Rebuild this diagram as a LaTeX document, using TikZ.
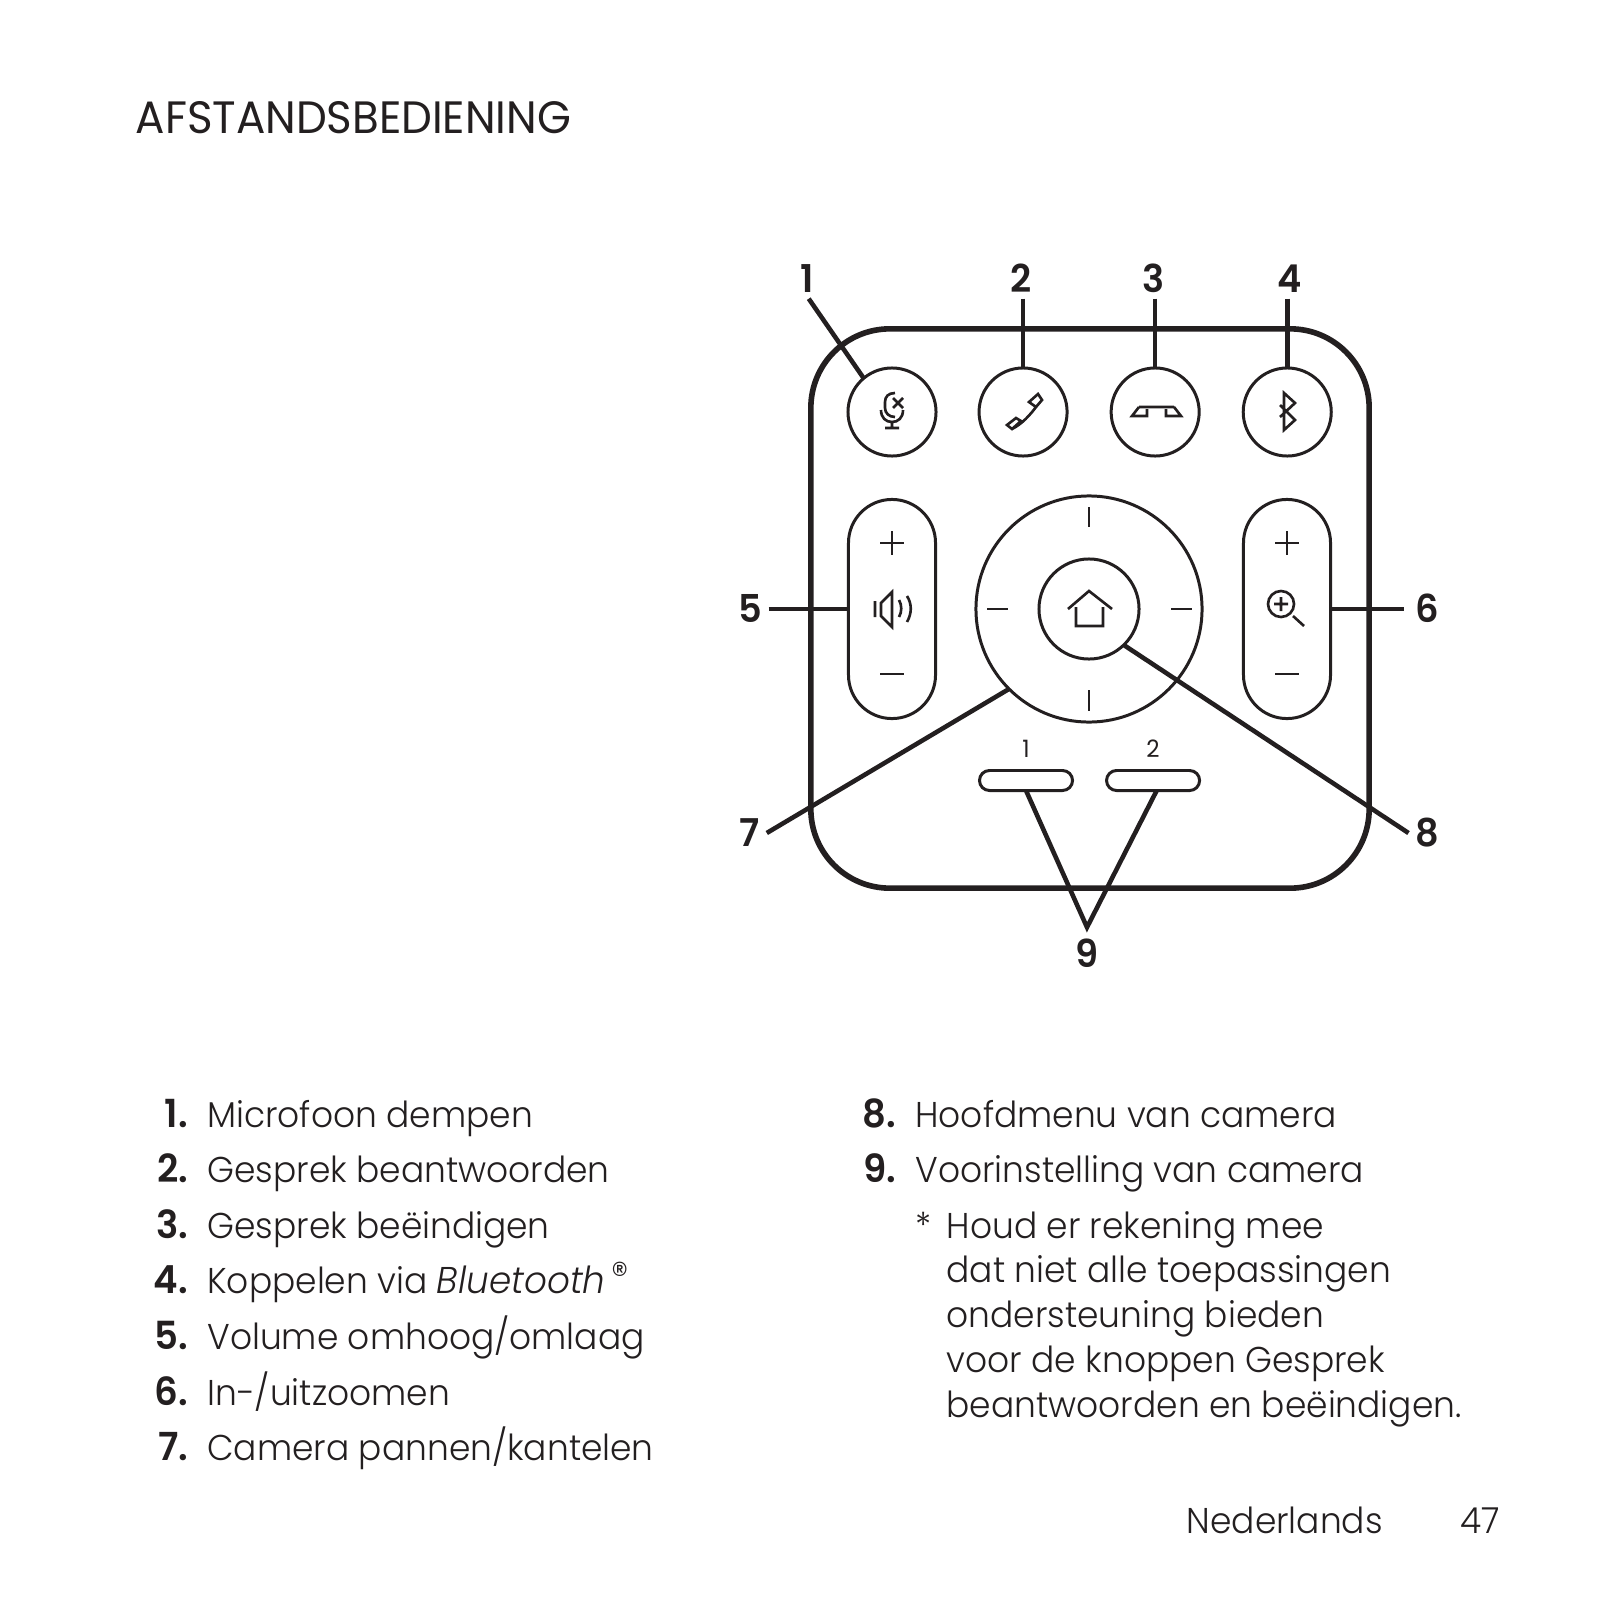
\documentclass[tikz,border=0pt]{standalone}
\usepackage{fontspec}
\setmainfont{Poppins}[UprightFont=* Light,BoldFont=* SemiBold,ItalicFont=* Light Italic,FakeStretch=.96]
\newfontfamily\headfont{Poppins}[FakeStretch=.96]
\usetikzlibrary{positioning}
\definecolor{ink}{HTML}{231F20}

\begin{document}
\begin{tikzpicture}[
  x=0.01cm, y=-0.01cm,
  color=ink, text=ink,
  body/.style={draw, rounded corners=.79cm, line width=1.6pt, minimum width=5.58cm,
               minimum height=5.59cm, outer sep=0pt, inner sep=0pt},
  round/.style={circle, draw, line width=.85pt, minimum size=.88cm, outer sep=0pt, inner sep=0pt},
  pill/.style={rectangle, draw, rounded corners=.435cm, line width=.85pt, minimum width=.87cm,
               minimum height=2.19cm, outer sep=0pt, inner sep=0pt},
  preset/.style={rectangle, draw, rounded corners=.1cm, line width=.85pt, minimum width=.93cm,
                 minimum height=.2cm, outer sep=0pt, inner sep=0pt},
  callout/.style={font=\fontsize{10.9}{12}\selectfont\bfseries, inner sep=1.7pt, text height=7.4pt, text depth=0pt},
  leader/.style={line width=1.3pt},
  icon/.style={line width=.75pt, line join=miter},
  thin/.style={line width=.55pt},
  num/.style={font=\fontsize{11}{12}\selectfont\bfseries, text width=.5cm, align=right, inner sep=0pt,
              text height=.28cm, text depth=.12cm},
  item/.style={font=\fontsize{10.2}{12}\selectfont, anchor=west, inner sep=0pt,
               text height=.28cm, text depth=.12cm},
  note/.style={item, anchor=north west},
  node distance=.142cm
]
  \useasboundingbox (0,0) rectangle (1600,1600);

  \node[anchor=base west, inner sep=0pt, font=\fontsize{12.9}{15}\selectfont\headfont] (title) at (135,134) {AFSTANDSBEDIENING};

  % remote
  \node[body] (remote) at (1090,608.5) {};
  \node[round] (mute) at (892,412) {};
  \node[round, right=.43cm of mute] (answer) {};
  \node[round, right=.44cm of answer] (hangup) {};
  \node[round, right=.44cm of hangup] (pairing) {};
  \node[pill] (volume) at (892,609) {};
  \node[pill] (zoom) at (1287,609) {};
  \node[round, minimum size=2.26cm] (ring) at (1089,609) {};
  \node[round, minimum size=1cm] (home) at (1089,609) {};
  \node[preset] (presetone) at (1026,780.5) {};
  \node[preset, right=.34cm of presetone] (presettwo) {};
  \node[font=\fontsize{6.8}{8}\selectfont\headfont, above=.12cm of presetone, inner sep=0pt] (numone) {1};
  \node[font=\fontsize{6.8}{8}\selectfont\headfont, above=.12cm of presettwo, inner sep=0pt] (numtwo) {2};

  % plus and minus marks
  \draw[thin] (880,543) -- (904,543) (892,531) -- (892,555) (880,674) -- (904,674);
  \draw[thin] (1275,543) -- (1299,543) (1287,531) -- (1287,555) (1275,674) -- (1299,674);
  \draw[thin] (1089,507) -- (1089,527) (1089,690) -- (1089,711) (987,609) -- (1008,609) (1171,609) -- (1192,609);

  % icons
  \draw[icon] (895,393) .. controls (888,393) and (885,397) .. (885,402) -- (885,408)
    .. controls (885,413) and (889,417) .. (895,417) (881,410) .. controls (881,418) and (886,422) .. (892,422)
    .. controls (898,422) and (903,418) .. (903,410) (892,422) -- (892,428) (885,428) -- (899,428)
    (893,398) -- (903,408) (903,398) -- (893,408);
  \draw[icon] (1038,394) -- (1042,400) -- (1036,407) -- (1029,402) -- cycle
    (1007,425) -- (1016,418) -- (1021,421) -- (1012,429) -- cycle
    (1036,407) .. controls (1030,415) and (1022,424) .. (1012,429);
  \draw[icon] (1139,407) -- (1174,407) (1139,407) -- (1132,416) -- (1147,416) -- (1147,409)
    (1174,407) -- (1181,416) -- (1166,416) -- (1166,409);
  \draw[icon] (1280,405) -- (1295,420) -- (1284,430) -- (1284,393) -- (1295,403) -- (1280,417);
  \draw[icon] (875,601) -- (875,617) (881,603) -- (892,592) -- (892,627) -- (881,616) -- cycle
    (899,600) .. controls (902,605) and (902,612) .. (899,617)
    (907,596) .. controls (912,604) and (912,613) .. (907,622);
  \draw[icon] (1281,604) circle (13) (1274,604) -- (1288,604) (1281,597) -- (1281,611) (1293,616) -- (1304,626);
  \draw[icon] (1068,609) -- (1089,591) -- (1112,609) (1076,607) -- (1076,626) -- (1103,626) -- (1103,607);

  % callouts
  \node[callout] (labmute) at (807,279) {1};
  \node[callout] (labanswer) at (1021,279) {2};
  \node[callout] (labhangup) at (1154,279) {3};
  \node[callout] (labpairing) at (1290,279) {4};
  \node[callout] (labvolume) at (750,609) {5};
  \node[callout, inner sep=2.9pt] (labzoom) at (1427,609) {6};
  \node[callout] (labpan) at (750,833) {7};
  \node[callout] (labhome) at (1427,833) {8};
  \node[callout, inner sep=3.7pt] (labpreset) at (1087,954) {9};

  \draw[leader] (labmute.-85) -- (mute.130);
  \draw[leader] (answer.north |- labanswer.south) -- (answer.north);
  \draw[leader] (hangup.north |- labhangup.south) -- (hangup.north);
  \draw[leader] (pairing.north |- labpairing.south) -- (pairing.north);
  \draw[leader] (labvolume) -- (volume.west);
  \draw[leader] (zoom.east) -- (labzoom);
  \draw[leader] (labpan.east) -- (ring.225);
  \draw[leader] (labhome.west) -- (home.-46);
  \draw[leader] (presetone.south) -- (labpreset.north) -- (presettwo.-70);

  % list on the left
  \node[num] (numa) at (163,1119) {1.};
  \node[num, below=of numa] (numb) {2.};
  \node[num, below=of numb] (numc) {3.};
  \node[num, below=of numc] (numd) {4.};
  \node[num, below=of numd] (nume) {5.};
  \node[num, below=of nume] (numf) {6.};
  \node[num, below=of numf] (numg) {7.};
  \node[item, right=.18cm of numa] (itema) {Microfoon dempen};
  \node[item, right=.18cm of numb] (itemb) {Gesprek beantwoorden};
  \node[item, right=.18cm of numc] (itemc) {Gesprek beëindigen};
  \node[item, right=.18cm of numd] (itemd) {Koppelen via \textit{\fontsize{10.6}{12}\selectfont Bluetooth}\,\raisebox{.18em}{®}};
  \node[item, right=.18cm of nume] (iteme) {Volume omhoog/omlaag};
  \node[item, right=.18cm of numf] (itemf) {In-/uitzoomen};
  \node[item, right=.18cm of numg] (itemg) {Camera pannen/kantelen};

  % list on the right
  \node[num] (numh) at (871,1119) {8.};
  \node[num, below=of numh] (numi) {9.};
  \node[item, right=.18cm of numh] (itemh) {Hoofdmenu van camera};
  \node[item, right=.18cm of numi] (itemi) {Voorinstelling van camera};
  \node[item] (star) at (915,1230) {*};
  \node[item] (notea) at (946,1230) {Houd er rekening mee};
  \node[note, below=.035cm of notea.south west, anchor=north west] (noteb) {dat niet alle toepassingen};
  \node[note, below=.035cm of noteb.south west, anchor=north west] (notec) {ondersteuning bieden};
  \node[note, below=.035cm of notec.south west, anchor=north west] (noted) {voor de knoppen Gesprek};
  \node[note, below=.035cm of noted.south west, anchor=north west] (notee) {beantwoorden en beëindigen.};

  % page foot
  \node[anchor=base west, inner sep=0pt, font=\fontsize{10.2}{12}\selectfont] (lang) at (1186,1533) {Nederlands};
  \node[anchor=base west, inner sep=0pt, font=\fontsize{10.2}{12}\selectfont] (page) at (1460,1533) {47};
\end{tikzpicture}
\end{document}
